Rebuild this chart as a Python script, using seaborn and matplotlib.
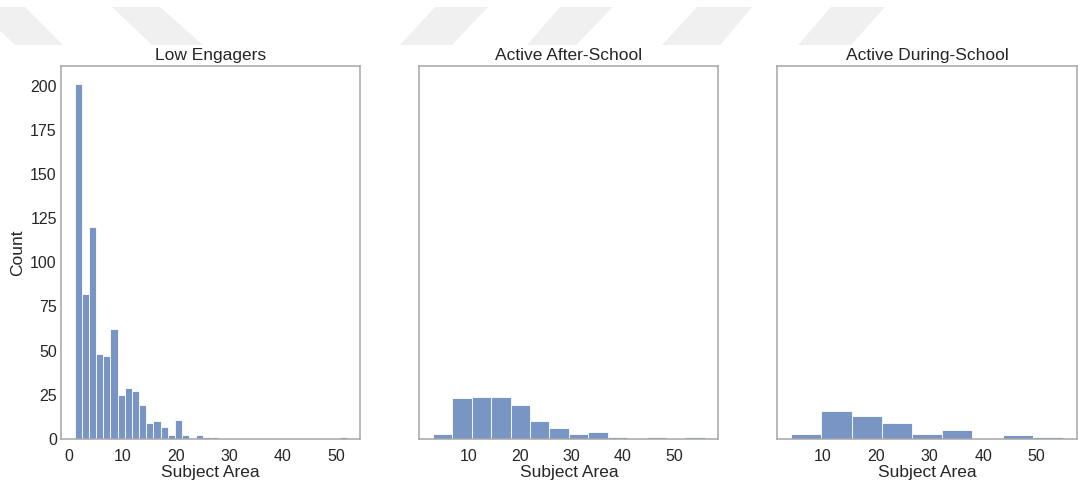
import numpy as np
import pandas as pd
import matplotlib
matplotlib.use("Agg")
import matplotlib.pyplot as plt
from matplotlib.patches import Polygon
import seaborn as sns

# Per-bin counts of "Subject Area" for each engagement cluster
titles = ["Low Engagers", "Active After-School", "Active During-School"]

low_range = (1, 52)
low_counts = [201, 82, 120, 48, 47, 62, 25, 29, 27, 19, 9, 10, 7, 2, 11, 2,
              0, 2, 1, 1, 0, 0, 0, 0, 0, 0, 0, 0, 0, 0, 0, 0, 0, 0, 0, 0, 0, 1]

after_range = (3, 56)
after_counts = [3, 23, 24, 24, 19, 10, 6, 3, 4, 1, 0, 1, 0, 1]

during_range = (4, 55)
during_counts = [3, 16, 13, 9, 3, 5, 0, 2, 1]

groups = [(low_range, low_counts), (after_range, after_counts), (during_range, during_counts)]

sns.set_theme(style="white", context="notebook",
              rc={"axes.edgecolor": "#a6a6a6", "axes.linewidth": 1.1,
                  "xtick.major.size": 0, "ytick.major.size": 0,
                  "xtick.major.pad": 7.5, "ytick.major.pad": 3.0,
                  "xtick.labelsize": 11.5, "ytick.labelsize": 11.5,
                  "axes.labelsize": 12.5, "axes.titlesize": 12.5,
                  "axes.labelpad": 0.5, "axes.titlepad": 4.0})
plt.rcParams["font.family"] = ["Liberation Sans", "DejaVu Sans"]

W, H = 1078, 484
fig, axes = plt.subplots(1, 3, figsize=(W / 100, H / 100), dpi=100, sharey=True)
fig.subplots_adjust(left=0.0566, right=0.9988, bottom=0.093, top=0.8636, wspace=0.197)

for ax, title, (rng, counts) in zip(axes, titles, groups):
    edges = np.linspace(rng[0], rng[1], len(counts) + 1)
    df = pd.DataFrame({"area": (edges[:-1] + edges[1:]) / 2, "n": counts})
    sns.histplot(data=df, x="area", weights="n", bins=list(edges), ax=ax,
                 linewidth=0.6)
    ax.set_title(title)
    ax.set_xlabel("Subject Area")
    ax.set_xticks([0, 10, 20, 30, 40, 50] if ax is axes[0] else [10, 20, 30, 40, 50])

axes[0].set_ylabel("Count", labelpad=4)
axes[1].set_ylabel("")
axes[2].set_ylabel("")

# Light grey diagonal bands across the top margin
def band(top, bottom, y0=7, y1=45):
    pts = [(top[0], y0), (top[1], y0), (bottom[1], y1), (bottom[0], y1)]
    pts = [(x / W, 1 - y / H) for x, y in pts]
    fig.patches.append(Polygon(pts, closed=True, transform=fig.transFigure,
                               facecolor="#f0f0f0", edgecolor="none", zorder=0))

band((-25, 25), (15, 63))
band((112, 160), (152, 203))
band((435, 488), (400, 452))
band((560, 613), (527, 576))
band((697, 752), (662, 720))
band((831, 885), (798, 851))

fig.savefig("out.png", dpi=100)
